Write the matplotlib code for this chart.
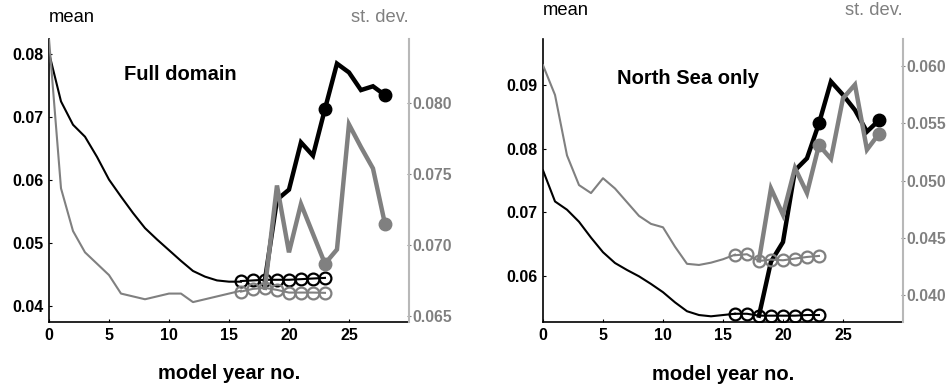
import matplotlib
matplotlib.use("Agg")
import matplotlib.pyplot as plt
import numpy as np

plt.rcParams["font.family"] = ["Liberation Sans", "DejaVu Sans"]

GRAY = "#808080"
SPINE_GRAY = "#b8b8b8"

# model years for the three parts of every curve
yrs_spin = np.arange(0, 17)      # spin-up (thin line)
yrs_ref = np.arange(16, 24)      # reference run (open circles)
yrs_run = np.arange(18, 29)      # perturbed run (thick line)
yrs_dot = [23, 28]               # filled markers on the thick line

# ---- Full domain ----
full_mean_spin = [0.0802, 0.0725, 0.0688, 0.0669, 0.0637, 0.0601, 0.0574, 0.0548,
                  0.0524, 0.0506, 0.0489, 0.0472, 0.0456, 0.0447, 0.0441, 0.0439, 0.0439]
full_mean_ref = [0.0440, 0.0441, 0.0442, 0.0442, 0.0442, 0.0443, 0.0444, 0.0445]
full_mean_run = [0.0442, 0.0569, 0.0585, 0.0660, 0.0639, 0.0713, 0.0785, 0.0771,
                 0.0743, 0.0749, 0.0735]
full_sd_spin = [0.0845, 0.0740, 0.0710, 0.0695, 0.0687, 0.0679, 0.0666, 0.0664,
                0.0662, 0.0664, 0.0666, 0.0666, 0.0660, 0.0662, 0.0664, 0.0666, 0.0668]
full_sd_ref = [0.06674, 0.06693, 0.06700, 0.06686, 0.06667, 0.06667, 0.06667, 0.06665]
full_sd_run = [0.0670, 0.0742, 0.0695, 0.0729, 0.0708, 0.0687, 0.0697, 0.0785,
               0.0769, 0.0754, 0.0715]

# ---- North Sea only ----
ns_mean_spin = [0.0766, 0.0717, 0.0704, 0.0685, 0.0660, 0.0637, 0.0620, 0.0609,
                0.0599, 0.0587, 0.0574, 0.0558, 0.0544, 0.0538, 0.0536, 0.0538, 0.0540]
ns_mean_ref = [0.0540, 0.0540, 0.0537, 0.0537, 0.0537, 0.0537, 0.0538, 0.0538]
ns_mean_run = [0.0537, 0.0622, 0.0653, 0.0766, 0.0785, 0.0840, 0.0906, 0.0885,
               0.0861, 0.0827, 0.0845]
ns_sd_spin = [0.0601, 0.0575, 0.0522, 0.0496, 0.0489, 0.0502, 0.0493, 0.0481,
              0.0469, 0.0462, 0.0459, 0.0442, 0.0427, 0.0426, 0.0428, 0.0431, 0.0435]
ns_sd_ref = [0.04345, 0.04354, 0.04295, 0.04307, 0.04301, 0.04316, 0.04330, 0.04339]
ns_sd_run = [0.0430, 0.0493, 0.0470, 0.0511, 0.0489, 0.0531, 0.0519, 0.0572,
             0.0584, 0.0527, 0.0541]

panels = [
    dict(title="Full domain", rect=[0.0518, 0.1722, 0.3805, 0.7275],
         mean=(full_mean_spin, full_mean_ref, full_mean_run),
         sd=(full_sd_spin, full_sd_ref, full_sd_run),
         ylim=(0.0375, 0.0824), ylim2=(0.0646, 0.0845),
         yticks=[0.04, 0.05, 0.06, 0.07, 0.08], yticks2=[0.065, 0.070, 0.075, 0.080],
         title_pos=(0.364, 0.873), head_y=0.956, xlab_y=0.041),
    dict(title="North Sea only", rect=[0.574, 0.1722, 0.3805, 0.7275],
         mean=(ns_mean_spin, ns_mean_ref, ns_mean_run),
         sd=(ns_sd_spin, ns_sd_ref, ns_sd_run),
         ylim=(0.0527, 0.0973), ylim2=(0.0376, 0.0624),
         yticks=[0.06, 0.07, 0.08, 0.09], yticks2=[0.040, 0.045, 0.050, 0.055, 0.060],
         title_pos=(0.404, 0.859), head_y=0.972, xlab_y=0.036),
]


def draw(ax, vals, color):
    spin, ref, run = vals
    ax.plot(yrs_spin, spin, "-", color=color, lw=1.5)
    ax.plot(yrs_ref, ref, "o-", color=color, lw=1.5, ms=8.5, mfc="none", mew=1.6)
    ax.plot(yrs_run, run, "-", color=color, lw=3.2, solid_joinstyle="miter")
    run_d = dict(zip(yrs_run, run))
    ax.plot(yrs_dot, [run_d[y] for y in yrs_dot], "o", color=color, ms=9)


fig = plt.figure(figsize=(9.46, 3.89), dpi=100)

for p in panels:
    ax = fig.add_axes(p["rect"])
    ax2 = ax.twinx()
    draw(ax, p["mean"], "black")
    draw(ax2, p["sd"], GRAY)

    ax.set_xlim(0, 30)
    ax.set_xticks([0, 5, 10, 15, 20, 25])
    ax.set_ylim(*p["ylim"])
    ax.set_yticks(p["yticks"])
    ax.set_yticklabels([f"{v:.2f}" for v in p["yticks"]])
    ax2.set_ylim(*p["ylim2"])
    ax2.set_yticks(p["yticks2"])
    ax2.set_yticklabels([f"{v:.3f}" for v in p["yticks2"]])

    for a in (ax, ax2):
        a.spines["top"].set_visible(False)
    ax.spines["right"].set_visible(False)
    ax2.spines["left"].set_visible(False)
    ax2.spines["bottom"].set_visible(False)
    ax2.spines["right"].set_color(SPINE_GRAY)
    ax2.spines["right"].set_linewidth(1.5)
    ax.spines["left"].set_linewidth(1.2)
    ax.spines["bottom"].set_linewidth(1.2)

    ax.tick_params(direction="in", length=2.5, width=0.8, labelsize=11.5, pad=4)
    ax2.tick_params(direction="inout", length=3.5, width=0.8, labelsize=11.3,
                    colors=GRAY, pad=0.5)
    for lab in ax.get_xticklabels() + ax.get_yticklabels() + ax2.get_yticklabels():
        lab.set_fontweight("bold")

    ax.text(*p["title_pos"], p["title"], transform=ax.transAxes, ha="center",
            va="center", fontsize=14.5, fontweight="bold")

    l, b, w, h = p["rect"]
    fig.text(l, p["head_y"], "mean", ha="left", va="center", fontsize=13.2)
    fig.text(l + w, p["head_y"], "st. dev.", ha="right", va="center",
             fontsize=13.2, color=GRAY)
    fig.text(l + w / 2, p["xlab_y"], "model year no.", ha="center", va="center",
             fontsize=14.5, fontweight="bold")

fig.savefig("out.png", dpi=100)
